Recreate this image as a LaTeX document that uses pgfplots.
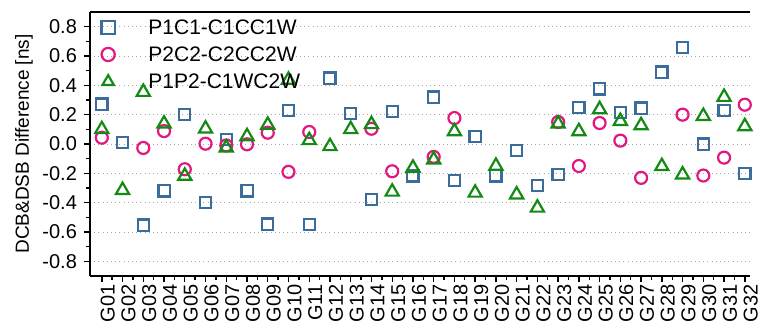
\documentclass[border=0pt]{standalone}
\usepackage{fontspec}
\setmainfont{Liberation Sans}
\usepackage{pgfplots}
\pgfplotsset{compat=1.18}
\usepackage{pgfplotstable}
\definecolor{cA}{HTML}{3A6C9C}
\definecolor{cB}{HTML}{E0187F}
\definecolor{cC}{HTML}{138A13}
\pgfplotstableread{
x a b c
1 0.272 0.043 0.10
2 0.011 nan -0.315
3 -0.553 -0.027 0.354
4 -0.32 0.088 0.138
5 0.20 -0.172 -0.218
6 -0.40 0.002 0.104
7 0.03 -0.01 -0.025
8 -0.32 -0.002 0.052
9 -0.546 0.077 0.13
10 0.227 -0.19 0.437
11 -0.549 0.082 0.025
12 0.45 nan -0.016
13 0.21 nan 0.10
14 -0.38 0.104 0.134
15 0.222 -0.186 -0.326
16 -0.218 nan -0.163
17 0.32 -0.088 -0.107
18 -0.247 0.177 0.086
19 0.052 nan -0.333
20 -0.218 nan -0.15
21 -0.043 nan -0.345
22 -0.283 nan -0.435
23 -0.206 0.15 0.138
24 0.247 -0.15 0.086
25 0.376 0.143 0.236
26 0.213 0.023 0.156
27 0.245 -0.231 0.127
28 0.49 nan -0.152
29 0.658 0.20 -0.209
30 0.0 -0.215 0.19
31 0.229 -0.093 0.32
32 -0.2 0.268 0.12
}\data
\begin{document}
\begin{tikzpicture}
\begin{axis}[
  scale only axis,
  width=330pt, height=132pt,
  xmin=0.43, xmax=32.25,
  ymin=-0.9, ymax=0.9,
  separate axis lines,
  axis x line=box,
  axis y line=left,
  axis line style={line width=0.8pt, -},
  xtick={1,...,32},
  xticklabels={G01,G02,G03,G04,G05,G06,G07,G08,G09,G10,G11,G12,G13,G14,G15,G16,G17,G18,G19,G20,G21,G22,G23,G24,G25,G26,G27,G28,G29,G30,G31,G32},
  xticklabel style={rotate=90, anchor=east, font=\fontsize{10}{11}\selectfont, inner sep=1pt, yshift=-3pt},
  x tick style={line width=0.7pt, black},
  minor x tick num=1,
  ytick={-0.8,-0.6,...,0.81},
  minor y tick num=1,
  y tick style={line width=0.7pt, black},
  tick align=outside,
  tick pos=left,
  major tick length=3pt,
  minor tick length=1.8pt,
  yticklabel style={font=\fontsize{10}{11}\selectfont, /pgf/number format/fixed, /pgf/number format/fixed zerofill, /pgf/number format/precision=1, /pgf/number format/assume math mode=true},
  ymajorgrids,
  major grid style={gray!70, line width=0.5pt, dash pattern=on 0.5pt off 1.6pt},
  ylabel={DCB\&DSB Difference [ns]},
  ylabel style={font=\fontsize{9.5}{10}\selectfont, yshift=-2pt},
  legend style={draw=none, fill=none, at={(rel axis cs:0,1)}, anchor=north west, font=\fontsize{10.5}{12}\selectfont, row sep=0.8pt, inner sep=1pt, xshift=0pt, yshift=-0.5pt},
  legend cell align=left,
  legend image code/.code={\path (0cm,0cm) (0.9cm,0cm); \draw[#1, mark size=3.3pt] plot coordinates {(0.27cm,0.5pt)};},
]
\addplot[only marks, mark=square, mark size=2.8pt, mark options={draw=cA, line width=1.1pt}] table[x=x, y=a] {\data};
\addlegendentry{P1C1-C1CC1W}
\addplot[only marks, mark=o, mark size=3pt, mark options={draw=cB, line width=1.1pt}] table[x=x, y=b] {\data};
\addlegendentry{P2C2-C2CC2W}
\addplot[only marks, mark=triangle, mark size=3.8pt, mark options={draw=cC, line width=1.1pt}] table[x=x, y=c] {\data};
\addlegendentry{P1P2-C1WC2W}
\coordinate (sw) at (rel axis cs:0,0);
\coordinate (ne) at (rel axis cs:1,1);
\end{axis}
\pgfresetboundingbox
\path[use as bounding box] ([shift={(-45pt,-28.5pt)}]sw) rectangle ([shift={(6pt,6pt)}]ne);
\end{tikzpicture}
\end{document}
